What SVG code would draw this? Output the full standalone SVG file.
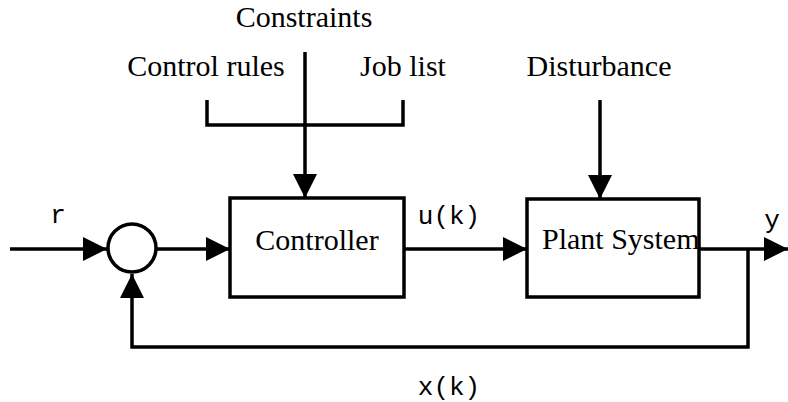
<svg xmlns="http://www.w3.org/2000/svg" width="788" height="402" viewBox="0 0 788 402">
  <style>
    .box { fill: #ffffff; stroke: #000000; stroke-width: 3.5; }
    .wire { fill: none; stroke: #000000; stroke-width: 3.5; }
    .serif { font-family: "Liberation Serif", "Times New Roman", serif; font-size: 30px; fill: #000000; }
    .mono { font-family: "Liberation Mono", "Courier New", monospace; font-size: 26px; fill: #000000; }
  </style>
  <defs>
    <marker id="arrow" viewBox="0 0 24 24" refX="24" refY="12" markerWidth="24" markerHeight="24" markerUnits="userSpaceOnUse" orient="auto">
      <path d="M0,0 L24,12 L0,24 Z" fill="#000000"/>
    </marker>
  </defs>

  <!-- connectors -->
  <g id="connectors">
    <!-- reference input r -->
    <line class="wire" x1="10" y1="249" x2="107" y2="249" marker-end="url(#arrow)"/>
    <!-- summing junction to controller -->
    <line class="wire" x1="156" y1="249" x2="230" y2="249" marker-end="url(#arrow)"/>
    <!-- control signal u(k) -->
    <line class="wire" x1="404" y1="249" x2="527" y2="249" marker-end="url(#arrow)"/>
    <!-- output y -->
    <line class="wire" x1="699" y1="249" x2="788" y2="249" marker-end="url(#arrow)"/>
    <!-- feedback loop x(k) -->
    <polyline class="wire" points="748,249 748,347 132,347 132,274" marker-end="url(#arrow)"/>
    <!-- rules / job list bracket -->
    <polyline class="wire" points="207,100 207,125 403,125 403,100"/>
    <!-- constraints into controller -->
    <line class="wire" x1="305" y1="52" x2="305" y2="198" marker-end="url(#arrow)"/>
    <!-- disturbance into plant -->
    <line class="wire" x1="600" y1="100" x2="600" y2="199" marker-end="url(#arrow)"/>
  </g>

  <g id="sum">
    <circle class="box" cx="132" cy="248" r="24"/>
  </g>

  <g id="controller">
    <rect class="box" x="230" y="198" width="174" height="99"/>
    <text class="serif" x="317" y="250" text-anchor="middle">Controller</text>
  </g>

  <g id="plant">
    <rect class="box" x="527" y="199" width="172" height="98"/>
    <text class="serif" x="542" y="249">Plant System</text>
  </g>

  <g id="labels">
    <text class="serif" x="304" y="27" text-anchor="middle">Constraints</text>
    <text class="serif" x="206" y="76" text-anchor="middle">Control rules</text>
    <text class="serif" x="403" y="76" text-anchor="middle">Job list</text>
    <text class="serif" x="599" y="76" text-anchor="middle">Disturbance</text>
    <text class="mono" x="58" y="223" text-anchor="middle">r</text>
    <text class="mono" x="449" y="224" text-anchor="middle">u(k)</text>
    <text class="mono" x="772" y="228" text-anchor="middle">y</text>
    <text class="mono" x="449" y="395" text-anchor="middle">x(k)</text>
  </g>
</svg>
